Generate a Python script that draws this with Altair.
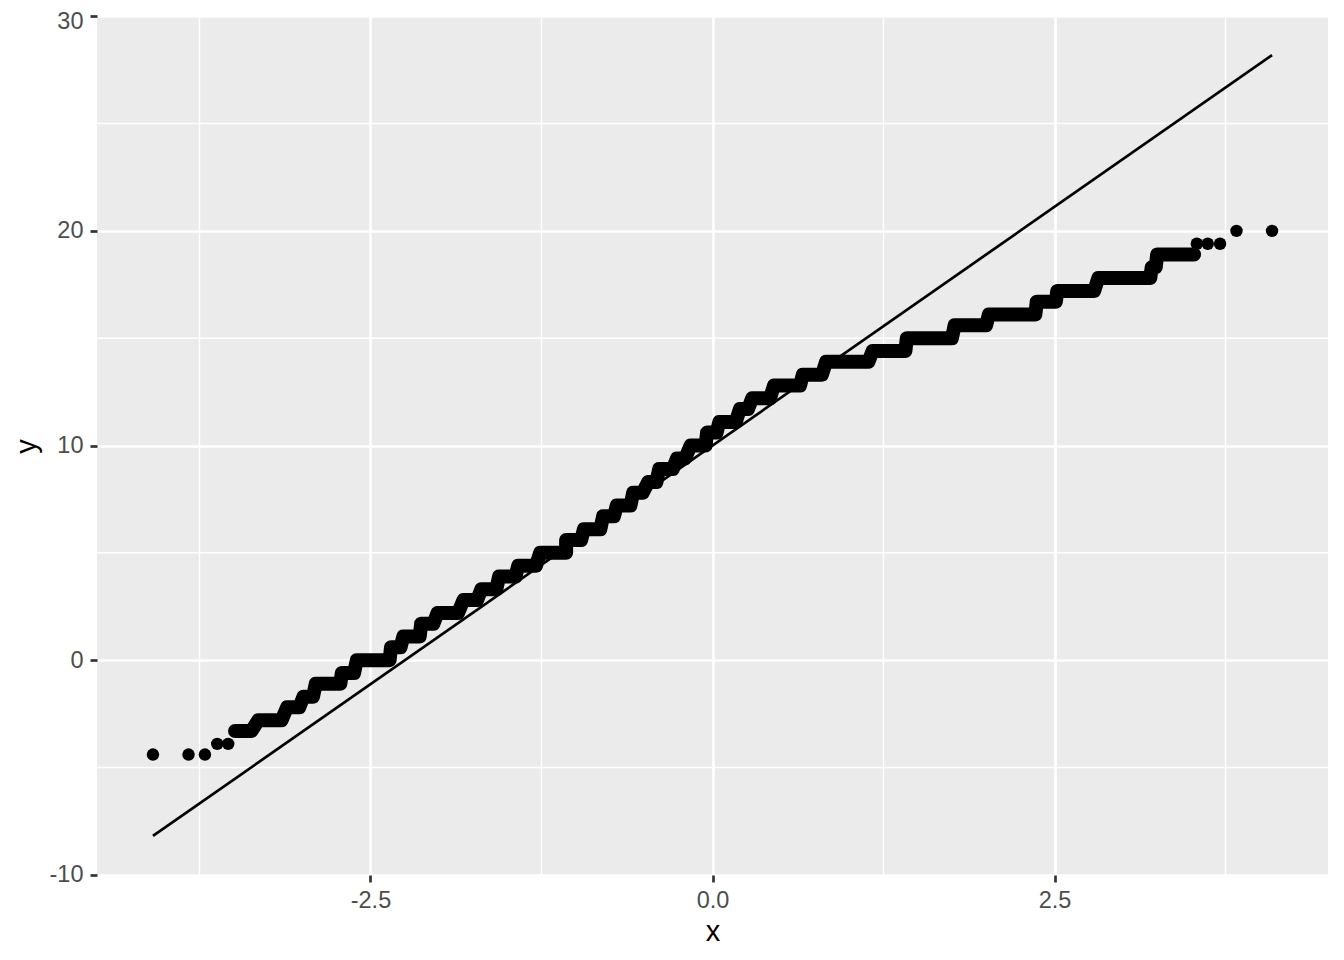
import altair as alt
import pandas as pd

# Sample quantile levels (plateaus) and the theoretical-quantile span of each run
levels = [-3.3, -2.8, -2.2, -1.7, -1.1, -0.6, 0.0, 0.6, 1.1, 1.7, 2.2, 2.8, 3.3, 3.9, 4.4,
          5.0, 5.6, 6.1, 6.7, 7.2, 7.8, 8.3, 8.9, 9.4, 10.0, 10.6, 11.1, 11.7, 12.2, 12.8,
          13.3, 13.9, 14.4, 15.0, 15.6, 16.1, 16.7, 17.2, 17.8, 18.3, 18.9]
run_start = [-3.49, -3.32, -3.11, -2.99, -2.90, -2.71, -2.60, -2.35, -2.26, -2.13, -2.01, -1.82,
             -1.69, -1.56, -1.42, -1.26, -1.07, -0.94, -0.80, -0.70, -0.58, -0.47, -0.39, -0.26,
             -0.16, -0.04, 0.05, 0.20, 0.29, 0.45, 0.66, 0.83, 1.17, 1.42, 1.77, 2.02, 2.37,
             2.52, 2.82, 3.21, 3.25]
run_end = [-3.37, -3.15, -3.02, -2.92, -2.72, -2.62, -2.36, -2.28, -2.14, -2.04, -1.86, -1.72,
           -1.58, -1.44, -1.29, -1.07, -0.96, -0.82, -0.72, -0.60, -0.51, -0.41, -0.29, -0.20,
           -0.05, 0.03, 0.17, 0.26, 0.42, 0.64, 0.80, 1.14, 1.41, 1.75, 2.00, 2.36, 2.51,
           2.79, 3.20, 3.24, 3.52]

# Isolated points in the tails
single_x = [-4.09, -3.83, -3.71, -3.62, -3.54, 3.54, 3.62, 3.71, 3.83, 4.09]
single_y = [-4.4, -4.4, -4.4, -3.9, -3.9, 19.4, 19.4, 19.4, 20.0, 20.0]

# Reference line endpoints
line_x = [-4.09, 4.09]
line_y = [-8.19, 28.19]

x_ticks = [-2.5, 0.0, 2.5]
y_ticks = [-10, 0, 10, 20, 30]
x_minor = [-3.75, -1.25, 1.25, 3.75]
y_minor = [-5, 5, 15, 25]

# staircase path through the start and end of every run, in order
path_rows = []
for i, (lv, a, b) in enumerate(zip(levels, run_start, run_end)):
    path_rows.append({"x": a, "y": lv, "i": 2 * i})
    path_rows.append({"x": b, "y": lv, "i": 2 * i + 1})
path = pd.DataFrame(path_rows)
singles = pd.DataFrame({"x": single_x, "y": single_y})
qq = pd.DataFrame({"x": line_x, "y": line_y})
xm = pd.DataFrame({"x": x_minor})
ym = pd.DataFrame({"y": y_minor})

FONT = "Liberation Sans"
MINUS = "\u2212"

xscale = alt.Scale(domain=[-4.499, 4.499], nice=False, zero=False)
yscale = alt.Scale(domain=[-10.01, 30.01], nice=False, zero=False)

xaxis = alt.Axis(values=x_ticks, format=".1f", title="x", grid=True, gridColor="white",
                 gridWidth=2.7, domain=False, tickColor="#333333", tickWidth=2.7, tickSize=7,
                 labelPadding=6, labelFontSize=23.5, labelColor="#4D4D4D", labelFont=FONT,
                 labelExpr="replace(datum.label, '" + MINUS + "', '-')",
                 titleFont=FONT, titleFontSize=29, titleFontWeight="normal", titleColor="black",
                 titleX=615.5, titleY=56, titleBaseline="middle", titleAlign="center")
yaxis = alt.Axis(values=y_ticks, format="d", title="y", grid=True, gridColor="white",
                 gridWidth=2.7, domain=False, tickColor="#333333", tickWidth=2.7, tickSize=7,
                 labelPadding=7, labelFontSize=23.5, labelColor="#4D4D4D", labelFont=FONT,
                 labelExpr="replace(datum.label, '" + MINUS + "', '-')",
                 labelOffset={"condition": {"test": "datum.value == 30", "value": 5}, "value": 0},
                 titleFont=FONT, titleFontSize=29, titleFontWeight="normal", titleColor="black",
                 titleAngle=270, titleX=-71, titleY=430, titleBaseline="middle", titleAlign="center")

X = lambda f="x": alt.X(f"{f}:Q", scale=xscale, axis=xaxis)
Y = lambda f="y": alt.Y(f"{f}:Q", scale=yscale, axis=yaxis)

minor_x = alt.Chart(xm).mark_rule(color="white", strokeWidth=1.4).encode(x=X())
minor_y = alt.Chart(ym).mark_rule(color="white", strokeWidth=1.4).encode(y=Y())

stair_layer = alt.Chart(path).mark_line(
    color="black", strokeWidth=14, strokeCap="round", strokeJoin="round"
).encode(x=X(), y=Y(), order="i:Q")
point_layer = alt.Chart(singles).mark_circle(color="black", size=155, opacity=1).encode(x=X(), y=Y())
line_layer = alt.Chart(qq).mark_line(color="black", strokeWidth=2.7).encode(x=X(), y=Y())

chart = alt.layer(minor_x, minor_y, stair_layer, point_layer, line_layer).properties(
    width=1231, height=859,
    autosize=alt.AutoSizeParams(type="none"),
    padding={"left": 89, "top": 8, "right": 8, "bottom": 70},
    background="white",
).configure_view(fill="#EBEBEB", strokeWidth=0)

chart.save("out.html", embed_options={"renderer": "svg", "actions": False})
